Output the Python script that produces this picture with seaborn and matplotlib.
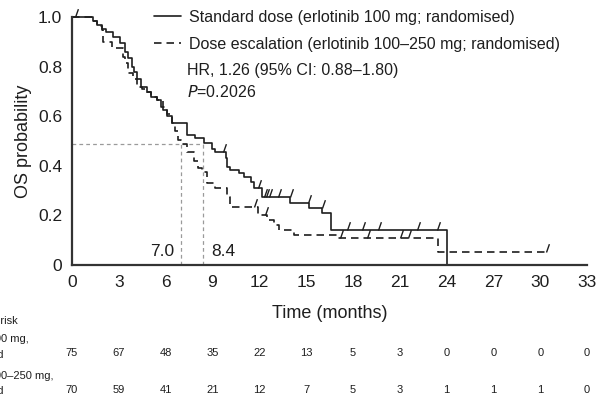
import numpy as np
import pandas as pd
import matplotlib
matplotlib.use("Agg")
import matplotlib.pyplot as plt
from matplotlib.path import Path
from matplotlib.markers import MarkerStyle
import seaborn as sns

# Kaplan-Meier steps
std_time = [0, 1.33, 1.6, 1.9, 2.2, 2.65, 3.1, 3.4, 3.6, 3.85, 4.0, 4.2, 4.4, 4.8,
            5.1, 5.45, 5.7, 5.85, 6.1, 6.4, 7.37, 7.9, 8.45, 8.98, 9.2, 9.85, 9.95,
            10.15, 10.7, 11.0, 11.45, 11.65, 12.2, 14.0, 15.2, 16.05, 16.6, 24.0]
std_surv = [1.0, 0.985, 0.97, 0.955, 0.94, 0.92, 0.895, 0.86, 0.835, 0.80, 0.78, 0.75,
            0.72, 0.70, 0.68, 0.665, 0.64, 0.625, 0.60, 0.575, 0.524, 0.511, 0.493,
            0.47, 0.457, 0.43, 0.396, 0.383, 0.37, 0.356, 0.336, 0.31, 0.275, 0.25,
            0.23, 0.21, 0.14, 0.0]
esc_time = [0, 1.3, 1.6, 1.9, 2.0, 2.55, 3.3, 3.4, 3.6, 3.9, 4.15, 4.5, 4.8, 5.1,
            5.45, 5.85, 6.1, 6.4, 6.6, 6.8, 7.0, 7.37, 7.8, 8.1, 8.35, 8.65, 9.2,
            9.95, 10.15, 11.9, 12.5, 12.95, 13.3, 14.2, 17.0, 23.45, 30.4]
esc_surv = [1.0, 0.985, 0.965, 0.95, 0.90, 0.875, 0.84, 0.815, 0.775, 0.75, 0.72,
            0.71, 0.70, 0.68, 0.665, 0.64, 0.61, 0.575, 0.54, 0.505, 0.49, 0.455,
            0.42, 0.39, 0.376, 0.33, 0.31, 0.275, 0.235, 0.20, 0.18, 0.16, 0.14,
            0.12, 0.107, 0.053, 0.053]

std_cens_t = [0.2, 9.7, 11.9, 12.3, 12.45, 12.6, 13.2, 14.0, 15.15, 16.0,
              17.65, 18.6, 19.6, 22.1, 23.4]
std_cens_s = [1.0, 0.457, 0.31, 0.275, 0.275, 0.275, 0.275, 0.275, 0.25, 0.23,
              0.14, 0.14, 0.14, 0.14, 0.14]
esc_cens_t = [11.65, 12.4, 17.2, 18.9, 21.0, 21.5, 30.4]
esc_cens_s = [0.235, 0.20, 0.107, 0.107, 0.107, 0.107, 0.053]

medians = [7.0, 8.4]
median_level = 0.49

arms = ["Standard dose (erlotinib 100 mg; randomised)",
        "Dose escalation (erlotinib 100\u2013250 mg; randomised)"]
hr_text = "HR, 1.26 (95% CI: 0.88\u20131.80)"
p_value = "0.2026"

risk_times = [0, 3, 6, 9, 12, 15, 18, 21, 24, 27, 30, 33]
risk_std = [75, 67, 48, 35, 22, 13, 5, 3, 0, 0, 0, 0]
risk_esc = [70, 59, 41, 21, 12, 7, 5, 3, 1, 1, 1, 0]

INK = "#1e1e1e"
GREY = "#9a9a9a"

sns.set_style("white")
plt.rcParams["font.family"] = ["Liberation Sans", "DejaVu Sans"]

df = pd.concat([
    pd.DataFrame({"time": std_time, "surv": std_surv, "arm": arms[0]}),
    pd.DataFrame({"time": esc_time, "surv": esc_surv, "arm": arms[1]}),
], ignore_index=True)

fig = plt.figure(figsize=(5.99, 3.97), dpi=100)
ax = fig.add_axes([0.120, 0.333, 0.860, 0.623])

# median guides
ax.plot([0, medians[1]], [median_level, median_level], color=GREY, lw=0.9,
        dashes=(3, 2.5))
for m in medians:
    ax.plot([m, m], [0, median_level], color=GREY, lw=0.9, dashes=(3, 2.5))

sns.lineplot(data=df, x="time", y="surv", style="arm", style_order=arms,
             dashes={arms[0]: "", arms[1]: (4.5, 3)}, drawstyle="steps-post",
             estimator=None, sort=False, color=INK, lw=1.2, ax=ax)
for ln in ax.get_lines():
    ln.set_clip_on(False)

tick = MarkerStyle(Path([(0, 0), (0.35, 1)], [Path.MOVETO, Path.LINETO]))
ax.plot(std_cens_t, std_cens_s, ls="none", marker=tick, ms=12, mec=INK, mew=1.0,
        clip_on=False)
ax.plot(esc_cens_t, esc_cens_s, ls="none", marker=tick, ms=12, mec=INK, mew=1.0,
        clip_on=False)

handles, labels = ax.get_legend_handles_labels()
ax.legend(handles[:2], labels[:2], loc="upper left", bbox_to_anchor=(0.16, 1.03),
          frameon=False, fontsize=11.5, handlelength=1.7, handletextpad=0.45,
          labelspacing=0.75, borderpad=0, borderaxespad=0, labelcolor=INK)
ax.text(0.223, 0.785, hr_text, transform=ax.transAxes, fontsize=11.5, color=INK,
        va="center")
ax.text(0.223, 0.697, "$\\it{P}$=" + p_value, transform=ax.transAxes,
        fontsize=11.5, color=INK, va="center")

ax.text(medians[0] - 0.45, 0.055, f"{medians[0]:.1f}", ha="right", va="center",
        fontsize=12.5, color=INK)
ax.text(medians[1] + 0.5, 0.055, f"{medians[1]:.1f}", ha="left", va="center",
        fontsize=12.5, color=INK)

ax.set_xlim(0, 33)
ax.set_ylim(0, 1.0)
ax.set_xticks(risk_times)
ax.set_yticks([0, 0.2, 0.4, 0.6, 0.8, 1.0])
ax.set_yticklabels(["0", "0.2", "0.4", "0.6", "0.8", "1.0"])
ax.tick_params(axis="both", direction="out", length=5, width=1.4, colors="#333333",
               labelsize=12.5, labelcolor=INK, pad=2)
for side in ["top", "right"]:
    ax.spines[side].set_visible(False)
for side in ["left", "bottom"]:
    ax.spines[side].set_color("#333333")
    ax.spines[side].set_linewidth(1.6)
ax.set_xlabel("Time (months)", fontsize=13, color=INK, labelpad=11)
ax.set_ylabel("OS probability", fontsize=13, color=INK, labelpad=4)

# numbers at risk table
def fx(px):
    return px / 599.0

def fy(py):
    return 1 - py / 397.0

x0 = fx(-55)
fig.text(x0, fy(321), "Number at risk", fontsize=8, color=INK, va="center")
fig.text(x0, fy(339), "Erlotinib 100 mg,", fontsize=8, color=INK, va="center")
fig.text(x0, fy(355), "randomised", fontsize=8, color=INK, va="center")
fig.text(x0, fy(376), "Erlotinib 100\u2013250 mg,", fontsize=8, color=INK, va="center")
fig.text(x0, fy(391), "randomised", fontsize=8, color=INK, va="center")
for t, a, b in zip(risk_times, risk_std, risk_esc):
    xd = ax.transData.transform((t, 0))[0]
    xf = fig.transFigure.inverted().transform((xd, 0))[0]
    fig.text(xf, fy(353), str(a), fontsize=8, color=INK, ha="center", va="center")
    fig.text(xf, fy(390), str(b), fontsize=8, color=INK, ha="center", va="center")

fig.savefig("out.png", dpi=100)
